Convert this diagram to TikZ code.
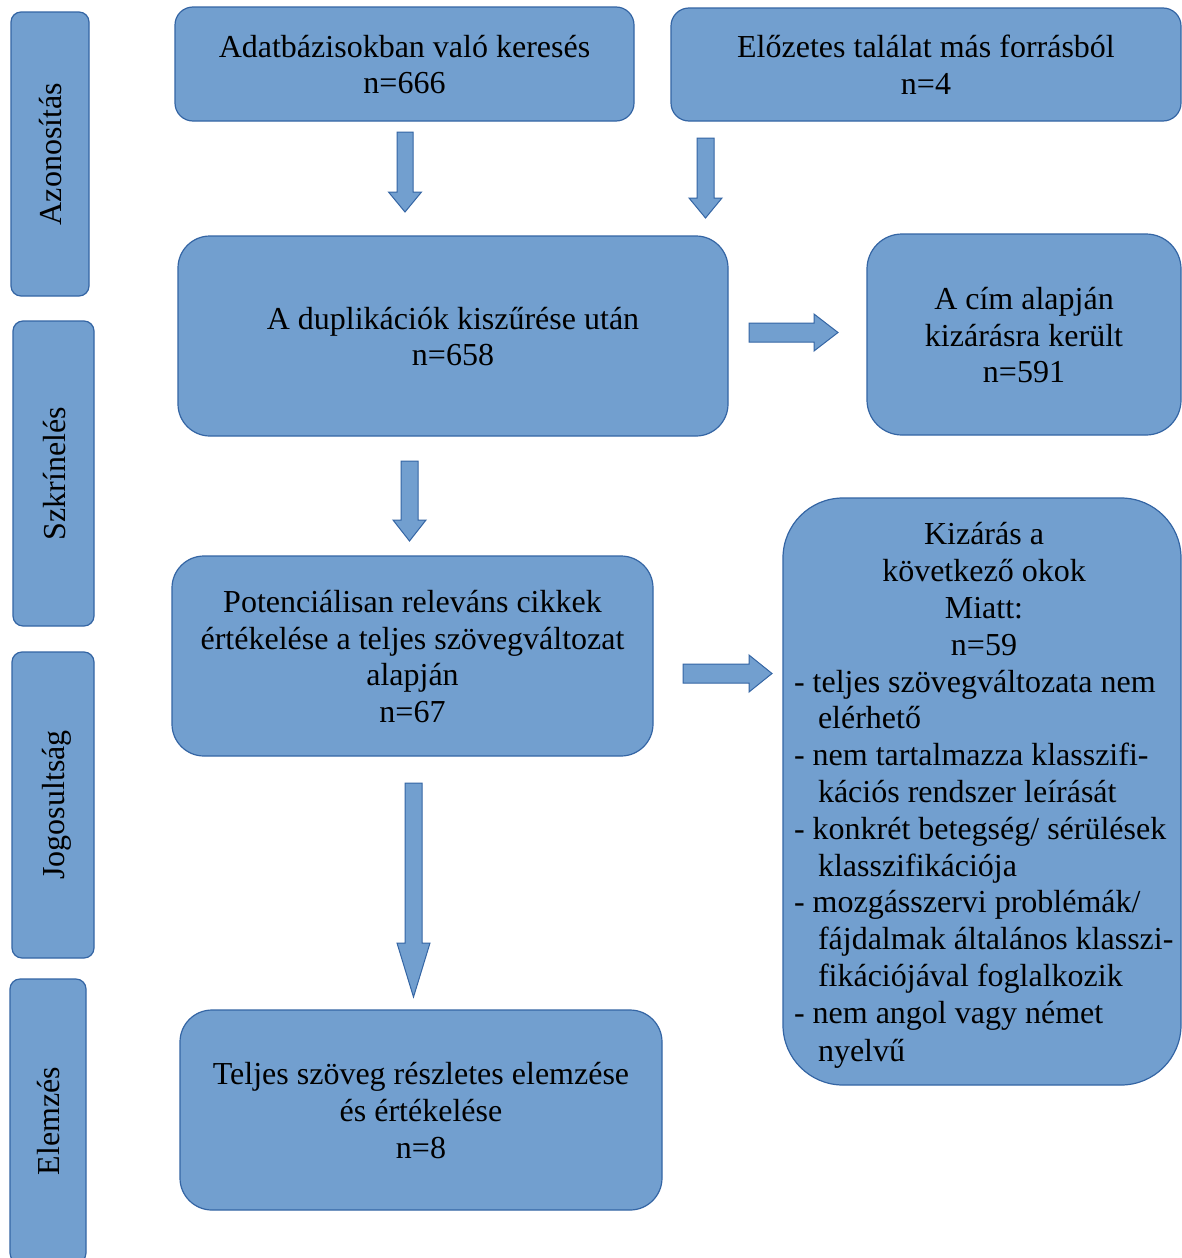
\documentclass[tikz,border=0pt]{standalone}
\usepackage{fontspec}
\setmainfont{Liberation Serif}
\usetikzlibrary{calc}
\definecolor{boxfill}{HTML}{729FCF}
\definecolor{boxline}{HTML}{3465A4}
\tikzset{
  box/.style={draw=boxline, fill=boxfill, line width=1.2pt, align=center, inner sep=0pt,
    font=\fontsize{32}{36.8}\selectfont, text=black},
  phase/.style={box, rotate=90, rounded corners=10pt},
  blockarrow/.style={draw=boxline, fill=boxfill, line width=1pt, line join=miter},
}
% #1 start, #2 tip, #3 half shaft width, #4 half head width, #5 head length
\newcommand\blockarr[5]{%
  \coordinate (hb) at ($(#2)!#5!(#1)$);
  \draw[blockarrow] ($(#1)!#3!90:(#2)$) -- ($(hb)!#3!90:(#2)$) -- ($(hb)!#4!90:(#2)$)
    -- (#2) -- ($(hb)!#4!-90:(#2)$) -- ($(hb)!#3!-90:(#2)$) -- ($(#1)!#3!-90:(#2)$) -- cycle;
}
\newcommand\lstrut{\vrule height29.9pt depth6.9pt width0pt\relax}
\newcommand\hangitem[1]{\hangindent=24pt\hangafter=1 #1\par}
\newcommand\btext[1]{{\setbox\strutbox\hbox{\lstrut}\begin{tabular}{@{}c@{}}#1\end{tabular}}}
\begin{document}
\begin{tikzpicture}[x=1pt, y=-1pt]
\useasboundingbox (0,0) rectangle (1182,1258);
\fill[white] (0,0) rectangle (1182,1258);

% phase labels
\node[phase, minimum width=284pt, minimum height=78pt] (id) at (50,154) {\btext{Azonosítás}};
\node[phase, minimum width=305pt, minimum height=81pt] (scr) at (53.5,473.5) {\btext{Szkrínelés}};
\node[phase, minimum width=306pt, minimum height=82pt] (elig) at (53,805) {\btext{Jogosultság}};
\node[phase, minimum width=284pt, minimum height=76pt] (anal) at (48,1121) {\btext{Elemzés}};

% boxes
\node[box, minimum width=459pt, minimum height=114pt, rounded corners=18pt] (search) at (404.5,64)
  {\btext{Adatbázisokban való keresés\\n=666}};
\node[box, minimum width=510pt, minimum height=113pt, rounded corners=18pt] (other) at (926,64.5)
  {\btext{Előzetes találat más forrásból\\n=4}};
\node[box, minimum width=550pt, minimum height=200pt, rounded corners=32pt] (dedup) at (453,336)
  {\btext{A duplikációk kiszűrése után\\n=658}};
\node[box, minimum width=314pt, minimum height=201pt, rounded corners=35pt] (title) at (1024,334.5)
  {\btext{A cím alapján\\kizárásra került\\n=591}};
\node[box, minimum width=481pt, minimum height=200pt, rounded corners=32pt] (full) at (412.5,656)
  {\btext{Potenciálisan releváns cikkek\\értékelése a teljes szövegváltozat\\alapján\\n=67}};
\node[box, minimum width=398pt, minimum height=587pt, rounded corners=60pt] (excl) at (982,791.5)
  {\hspace*{4pt}\parbox{380pt}{%
   {\centering\lstrut Kizárás a\\következő okok\\Miatt:\\n=59\par}%
   \raggedright
   \hangitem{\mbox{- teljes szövegváltozata nem}\newline\mbox{elérhető}}%
   \hangitem{\mbox{- nem tartalmazza klasszifi-}\newline\mbox{kációs rendszer leírását}}%
   \hangitem{\mbox{- konkrét betegség/ sérülések}\newline\mbox{klasszifikációja}}%
   \hangitem{\mbox{- mozgásszervi problémák/}\newline\mbox{fájdalmak általános klasszi-}\newline\mbox{fikációjával foglalkozik}}%
   \hangitem{\mbox{- nem angol vagy német}\newline\mbox{nyelvű}\lstrut}}};
\node[box, minimum width=482pt, minimum height=200pt, rounded corners=32pt] (final) at (421,1110)
  {\btext{Teljes szöveg részletes elemzése\\és értékelése\\n=8}};

% block arrows
\coordinate (a1s) at (405,132);   \coordinate (a1e) at (405,212);
\coordinate (a2s) at (705.5,138); \coordinate (a2e) at (705.5,218);
\coordinate (a3s) at (749,332.5); \coordinate (a3e) at (838,332.5);
\coordinate (a4s) at (409.5,461); \coordinate (a4e) at (409.5,541);
\coordinate (a5s) at (683,673.5); \coordinate (a5e) at (772,673.5);
\coordinate (a6s) at (413.5,783); \coordinate (a6e) at (413.5,997);
\blockarr{a1s}{a1e}{8pt}{16.5pt}{20pt}
\blockarr{a2s}{a2e}{8.5pt}{16.5pt}{20pt}
\blockarr{a3s}{a3e}{9.5pt}{18.5pt}{24pt}
\blockarr{a4s}{a4e}{8.5pt}{16.5pt}{21pt}
\blockarr{a5s}{a5e}{9.5pt}{18.5pt}{23pt}
\blockarr{a6s}{a6e}{8.5pt}{16.5pt}{54pt}
\end{tikzpicture}
\end{document}
